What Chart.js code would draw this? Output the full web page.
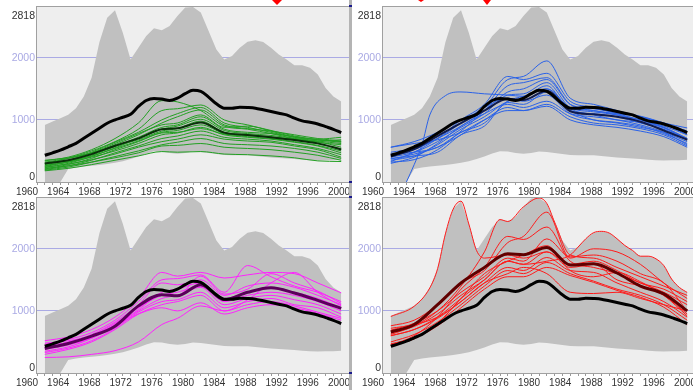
<!DOCTYPE html>
<html>
<head>
<meta charset="utf-8">
<script src="https://cdn.jsdelivr.net/npm/chart.js@4.4.0/dist/chart.umd.min.js"></script>
<style>
    body { margin: 0; width: 693px; height: 390px; overflow: hidden; background: #fff; position: relative; }
    canvas { position: absolute; }
    .bar { position: absolute; left: 349px; top: 0; width: 3px; height: 390px; background: #b4b4b4; }
    .mark { position: absolute; left: 349px; width: 3px; height: 2px; background: #1a1a8c; }
    .tip { position: absolute; top: 0; width: 0; height: 0; border-style: solid; border-color: #f00 transparent transparent transparent; }
</style>
</head>
<body>
<canvas id="panelGreen" width="352" height="200" style="left:0;top:0"></canvas>
<canvas id="panelBlue" width="352" height="200" style="left:346px;top:0"></canvas>
<canvas id="panelMagenta" width="352" height="200" style="left:0;top:191px"></canvas>
<canvas id="panelRed" width="352" height="200" style="left:346px;top:191px"></canvas>
<div class="bar"></div>
<div class="mark" style="top:5px"></div>
<div class="mark" style="top:181px"></div>
<div class="mark" style="top:196px"></div>
<div class="mark" style="top:372px"></div>
<div class="tip" style="left:272px;border-width:5px 5px 0 5px"></div>
<div class="tip" style="left:418px;border-width:2px 3px 0 3px"></div>
<div class="tip" style="left:483px;border-width:5px 4px 0 4px"></div>
<script>
// Valores
const years = [1961, 1962, 1963, 1964, 1965, 1966, 1967, 1968, 1969, 1970,
    1971, 1972, 1973, 1974, 1975, 1976, 1977, 1978, 1979, 1980,
    1981, 1982, 1983, 1984, 1985, 1986, 1987, 1988, 1989, 1990,
    1991, 1992, 1993, 1994, 1995, 1996, 1997, 1998, 1999];
const keyYears = [1961, 1964, 1967, 1970, 1973, 1976, 1978, 1981, 1984, 1987, 1990, 1993, 1996, 1999];
const labelYears = [1960, 1964, 1968, 1972, 1976, 1980, 1984, 1988, 1992, 1996, 2000];
const yTicks = [0, 1000, 2000, 2818];

// Banda gris (maximo / minimo)
const envelopeTop = [919, 973, 1027, 1081, 1189, 1378, 1680, 2250, 2645, 2767,
    2405, 1973, 2162, 2351, 2475, 2443, 2513, 2675, 2810, 2818,
    2730, 2432, 2135, 1973, 2027, 2162, 2260, 2281, 2254, 2162,
    2054, 1973, 1881, 1881, 1838, 1730, 1513, 1378, 1297];
const envelopeBottom = [0, 0, 0, 210, 235, 250, 262, 275, 290, 310,
    335, 370, 410, 460, 495, 490, 465, 455, 465, 490,
    485, 465, 450, 435, 430, 432, 430, 420, 405, 395,
    388, 378, 370, 360, 350, 345, 350, 352, 358];
// Linea negra (total)
const overallLine = [430, 470, 513, 567, 622, 703, 784, 865, 946, 1000,
    1043, 1090, 1216, 1313, 1346, 1335, 1313, 1351, 1422, 1476,
    1459, 1367, 1259, 1189, 1189, 1205, 1200, 1189, 1162, 1135,
    1108, 1081, 1027, 984, 962, 935, 892, 849, 795];

// Grupo verde
const greenLines = [
    [340, 400, 520, 700, 950, 1310, 1290, 1150, 900, 850, 780, 700, 640, 600],
    [300, 380, 500, 650, 850, 1150, 1180, 1240, 1000, 920, 820, 720, 660, 620],
    [280, 350, 480, 640, 800, 1000, 1100, 1200, 950, 880, 800, 720, 680, 650],
    [260, 330, 450, 600, 760, 950, 1050, 1160, 920, 860, 820, 760, 700, 660],
    [320, 380, 470, 620, 780, 920, 950, 1080, 880, 900, 830, 740, 680, 640],
    [250, 320, 430, 570, 720, 880, 920, 1050, 850, 800, 780, 730, 690, 720],
    [230, 300, 410, 550, 700, 850, 900, 1010, 830, 780, 750, 700, 650, 560],
    [350, 390, 470, 580, 680, 820, 860, 980, 800, 760, 730, 680, 620, 530],
    [210, 280, 380, 520, 650, 800, 830, 920, 780, 730, 700, 650, 590, 500],
    [270, 320, 400, 500, 620, 760, 790, 880, 760, 720, 690, 640, 580, 470],
    [200, 260, 350, 470, 580, 700, 740, 820, 720, 690, 660, 600, 540, 440],
    [240, 290, 360, 450, 560, 650, 690, 760, 690, 660, 640, 580, 520, 400],
    [190, 240, 320, 410, 500, 600, 640, 700, 620, 600, 580, 540, 480, 380],
    [220, 260, 320, 390, 470, 580, 590, 620, 560, 540, 520, 480, 430, 350],
    [180, 220, 280, 350, 420, 490, 480, 490, 450, 440, 420, 390, 340, 330],
    [300, 340, 420, 540, 660, 790, 800, 860, 770, 750, 720, 690, 660, 680]
];
const greenMean = [297, 351, 449, 584, 703, 849, 865, 957, 795, 757, 719, 676, 622, 524];

// Grupo azul
const blueRiserYears = [1963, 1964, 1965, 1966, 1968, 1970, 1973, 1976, 1978, 1981, 1984, 1987, 1990, 1993, 1996, 1999];
const blueRiser = [0, 280, 600, 1080, 1390, 1450, 1420, 1400, 1380, 1500, 1200, 1150, 1080, 980, 880, 700];
const blueLines = [
    [560, 650, 800, 1000, 1200, 1650, 1700, 1950, 1350, 1250, 1150, 1050, 950, 870],
    [330, 480, 700, 1000, 1250, 1700, 1650, 1750, 1300, 1200, 1100, 1000, 880, 700],
    [430, 520, 700, 900, 1150, 1450, 1500, 1650, 1250, 1180, 1120, 1060, 950, 820],
    [400, 480, 650, 880, 1100, 1400, 1420, 1600, 1200, 1130, 1080, 1000, 900, 760],
    [350, 420, 600, 850, 1050, 1300, 1350, 1550, 1150, 1100, 1050, 950, 850, 680],
    [480, 540, 700, 950, 1200, 1350, 1300, 1400, 1100, 1000, 960, 900, 780, 620],
    [300, 400, 620, 900, 1100, 1250, 1200, 1300, 1100, 1050, 1000, 920, 800, 600],
    [370, 450, 560, 760, 1000, 1200, 1150, 1250, 1050, 950, 920, 860, 760, 580],
    [560, 620, 680, 800, 1000, 1150, 1150, 1220, 1000, 920, 880, 820, 730, 560],
    [320, 360, 520, 820, 1150, 1550, 1600, 1680, 1250, 1150, 1100, 1050, 940, 760],
    [450, 480, 560, 800, 950, 1300, 1380, 1500, 1180, 1080, 1000, 960, 870, 680],
    [380, 420, 480, 760, 900, 1280, 1250, 1450, 1150, 1000, 950, 880, 800, 650]
];
const blueMean = [411, 530, 740, 950, 1150, 1340, 1320, 1470, 1140, 1090, 1050, 970, 830, 680];

// Grupo magenta
const magentaLines = [
    [520, 580, 700, 900, 1200, 1620, 1560, 1620, 1530, 1580, 1620, 1600, 1450, 1290],
    [460, 540, 650, 850, 1150, 1500, 1520, 1580, 1300, 1730, 1550, 1400, 1300, 1150],
    [430, 500, 620, 820, 1100, 1450, 1420, 1500, 1250, 1400, 1450, 1380, 1250, 1100],
    [400, 470, 600, 800, 1050, 1300, 1350, 1450, 1200, 1300, 1380, 1300, 1200, 1050],
    [380, 450, 580, 780, 1050, 1250, 1300, 1400, 1150, 1250, 1300, 1250, 1150, 1000],
    [350, 420, 560, 750, 1000, 1200, 1250, 1380, 1100, 1200, 1250, 1180, 1100, 950],
    [330, 400, 520, 720, 980, 1150, 1180, 1300, 1050, 1150, 1200, 1100, 1050, 900],
    [300, 380, 500, 700, 950, 1100, 1150, 1250, 1000, 1100, 1150, 1080, 980, 880],
    [480, 520, 600, 760, 950, 1050, 1000, 1130, 950, 1050, 1100, 1050, 960, 850],
    [250, 260, 300, 360, 500, 780, 880, 1080, 1000, 1180, 1450, 1620, 1300, 1080],
    [420, 460, 560, 760, 1020, 1250, 1250, 1560, 1270, 1350, 1600, 1450, 1320, 1120]
];
const magentaMean = [396, 476, 594, 754, 1081, 1262, 1245, 1423, 1182, 1300, 1372, 1289, 1170, 1040];

// Grupo rojo
const redSpikeYears = [1961, 1964, 1966, 1967, 1968, 1969, 1970, 1971, 1972, 1973, 1976, 1978, 1981, 1984, 1987, 1990, 1993, 1996, 1999];
const redSpike = [910, 1075, 1370, 1680, 2240, 2640, 2767, 2400, 1970, 1850, 1900, 1850, 1950, 1750, 1800, 1650, 1450, 1350, 1150];
const redPeakYears = [1961, 1964, 1967, 1970, 1973, 1975, 1976, 1978, 1980, 1981, 1982, 1984, 1987, 1990, 1993, 1996, 1999];
const redPeak = [620, 760, 1000, 1400, 1950, 2470, 2440, 2675, 2818, 2730, 2430, 1900, 1850, 1700, 1550, 1400, 1250];
const redLateYears = [1961, 1964, 1967, 1970, 1973, 1976, 1978, 1981, 1984, 1985, 1986, 1987, 1988, 1989,
    1990, 1991, 1992, 1993, 1994, 1995, 1996, 1997, 1998, 1999];
const redLate = [600, 700, 900, 1200, 1500, 1800, 1750, 1800, 1900, 2027, 2162, 2260, 2281, 2254,
    2162, 2054, 1973, 1881, 1881, 1838, 1730, 1513, 1378, 1297];
const redLines = [
    [450, 600, 900, 1350, 1700, 2200, 2150, 2350, 1800, 1700, 1600, 1450, 1300, 1100],
    [760, 850, 1100, 1450, 1650, 2100, 2200, 2590, 1850, 2000, 1950, 1750, 1450, 1200],
    [690, 800, 1000, 1300, 1550, 1850, 1800, 2160, 1870, 1900, 1800, 1600, 1450, 1000],
    [640, 750, 950, 1250, 1500, 1800, 1750, 1950, 1700, 1750, 1500, 1400, 1250, 950],
    [600, 700, 880, 1150, 1450, 1700, 1650, 1860, 1650, 1620, 1450, 1300, 1150, 900],
    [500, 620, 820, 1100, 1400, 1650, 1600, 1780, 1600, 1480, 1350, 1250, 1100, 850],
    [470, 560, 760, 1050, 1350, 1550, 1550, 1700, 1570, 1460, 1330, 1220, 1060, 780],
    [720, 780, 900, 1150, 1450, 1600, 1700, 1600, 1300, 1280, 1300, 1200, 1100, 1000],
    [450, 550, 800, 1200, 1600, 1800, 1900, 2050, 1650, 1550, 1620, 1470, 1250, 920]
];
const redMean = [660, 780, 1100, 1450, 1700, 1920, 1905, 2020, 1740, 1758, 1610, 1400, 1274, 1000];

const gridColor = '#aaaae4';
const minorTicks = [];
for (let y = 1960; y <= 2000; y++) minorTicks.push(y);

Chart.defaults.font.family = "'Liberation Sans', Arial, sans-serif";

// Fondo y borde del area del grafico
const plotFrame = {
    id: 'plotFrame',
    beforeDraw(chart) {
        const { ctx, chartArea: a } = chart;
        ctx.save();
        ctx.fillStyle = '#eeeeee';
        ctx.fillRect(a.left, a.top, a.right - a.left, a.bottom - a.top);
        ctx.restore();
    },
    afterDraw(chart) {
        const { ctx, chartArea: a } = chart;
        ctx.save();
        ctx.strokeStyle = '#a0a0a0';
        ctx.lineWidth = 1;
        ctx.strokeRect(a.left - 0.5, a.top - 0.5, a.right - a.left + 1, a.bottom - a.top + 1);
        ctx.restore();
    }
};

function points(xs, ys) {
    return xs.map((x, i) => ({ x: x, y: ys[i] }));
}

function lineSet(xs, ys, color, width) {
    return {
        data: points(xs, ys),
        borderColor: color,
        borderWidth: width,
        pointRadius: 0,
        fill: false,
        cubicInterpolationMode: 'monotone'
    };
}

function drawPanel(canvasId, lines, extraLines, mean, lineColor, meanColor, meanWidth) {
    const datasets = [];
    datasets.push(lineSet(years, overallLine, '#000000', 3));
    datasets.push(lineSet(keyYears, mean, meanColor, meanWidth));
    extraLines.forEach(l => datasets.push(lineSet(l.years, l.values, lineColor, 1)));
    lines.forEach(v => datasets.push(lineSet(keyYears, v, lineColor, 1)));
    datasets.push({
        data: points(years, envelopeTop),
        borderColor: 'rgba(0,0,0,0)',
        borderWidth: 0,
        pointRadius: 0,
        backgroundColor: '#c0c0c0',
        fill: '+1',
        tension: 0
    });
    datasets.push({
        data: points(years, envelopeBottom),
        borderColor: 'rgba(0,0,0,0)',
        borderWidth: 0,
        pointRadius: 0,
        fill: false,
        tension: 0
    });

    const ctx = document.getElementById(canvasId).getContext('2d');
    return new Chart(ctx, {
        type: 'line',
        data: { datasets: datasets },
        plugins: [plotFrame],
        options: {
            responsive: false,
            animation: false,
            devicePixelRatio: 1,
            events: [],
            layout: { padding: { top: 7, right: 3, left: 0, bottom: 0 } },
            plugins: {
                legend: { display: false },
                tooltip: { enabled: false }
            },
            scales: {
                x: {
                    type: 'linear',
                    min: 1960,
                    max: 2000,
                    afterBuildTicks: s => { s.ticks = minorTicks.map(v => ({ value: v })); },
                    afterFit: s => { s.height = 18; s.paddingLeft = 0; s.paddingRight = 0; },
                    border: { display: false },
                    grid: { drawOnChartArea: false, drawTicks: true, tickLength: 3, color: '#999999' },
                    ticks: {
                        autoSkip: false,
                        maxRotation: 0,
                        labelOffset: -10,
                        padding: 1,
                        color: '#333333',
                        font: { size: 10 },
                        callback: v => labelYears.includes(v) ? String(v) : ''
                    }
                },
                y: {
                    min: 0,
                    max: 2818,
                    z: 1,
                    afterBuildTicks: s => { s.ticks = yTicks.map(v => ({ value: v })); },
                    afterFit: s => { s.width = 37; s.paddingTop = 0; s.paddingBottom = 0; },
                    border: { display: false },
                    grid: {
                        drawTicks: false,
                        color: c => (c.tick && (c.tick.value === 1000 || c.tick.value === 2000)) ? gridColor : 'rgba(0,0,0,0)'
                    },
                    ticks: {
                        padding: 2,
                        // 0 y 2818 quedan dentro del area: la linea vacia los desplaza
                        font: c => ({ size: 10.5, lineHeight: (c.tick && c.tick.value === 0) ? 1.0 : 1.7 }),
                        color: c => (c.tick && (c.tick.value === 1000 || c.tick.value === 2000)) ? gridColor : '#333333',
                        callback: v => v === 0 ? ['0', ''] : (v === 2818 ? ['', '2818'] : String(v))
                    }
                }
            }
        }
    });
}

drawPanel('panelGreen', greenLines, [], greenMean, '#22a022', '#0a300a', 2);
drawPanel('panelBlue', blueLines, [{ years: blueRiserYears, values: blueRiser }], blueMean, '#2a62e8', '#101c50', 2);
drawPanel('panelMagenta', magentaLines, [], magentaMean, '#ff22ff', '#5a005a', 3);
drawPanel('panelRed', redLines, [
    { years: redSpikeYears, values: redSpike },
    { years: redPeakYears, values: redPeak },
    { years: redLateYears, values: redLate }
], redMean, '#ff1a1a', '#600000', 3);
</script>
</body>
</html>
